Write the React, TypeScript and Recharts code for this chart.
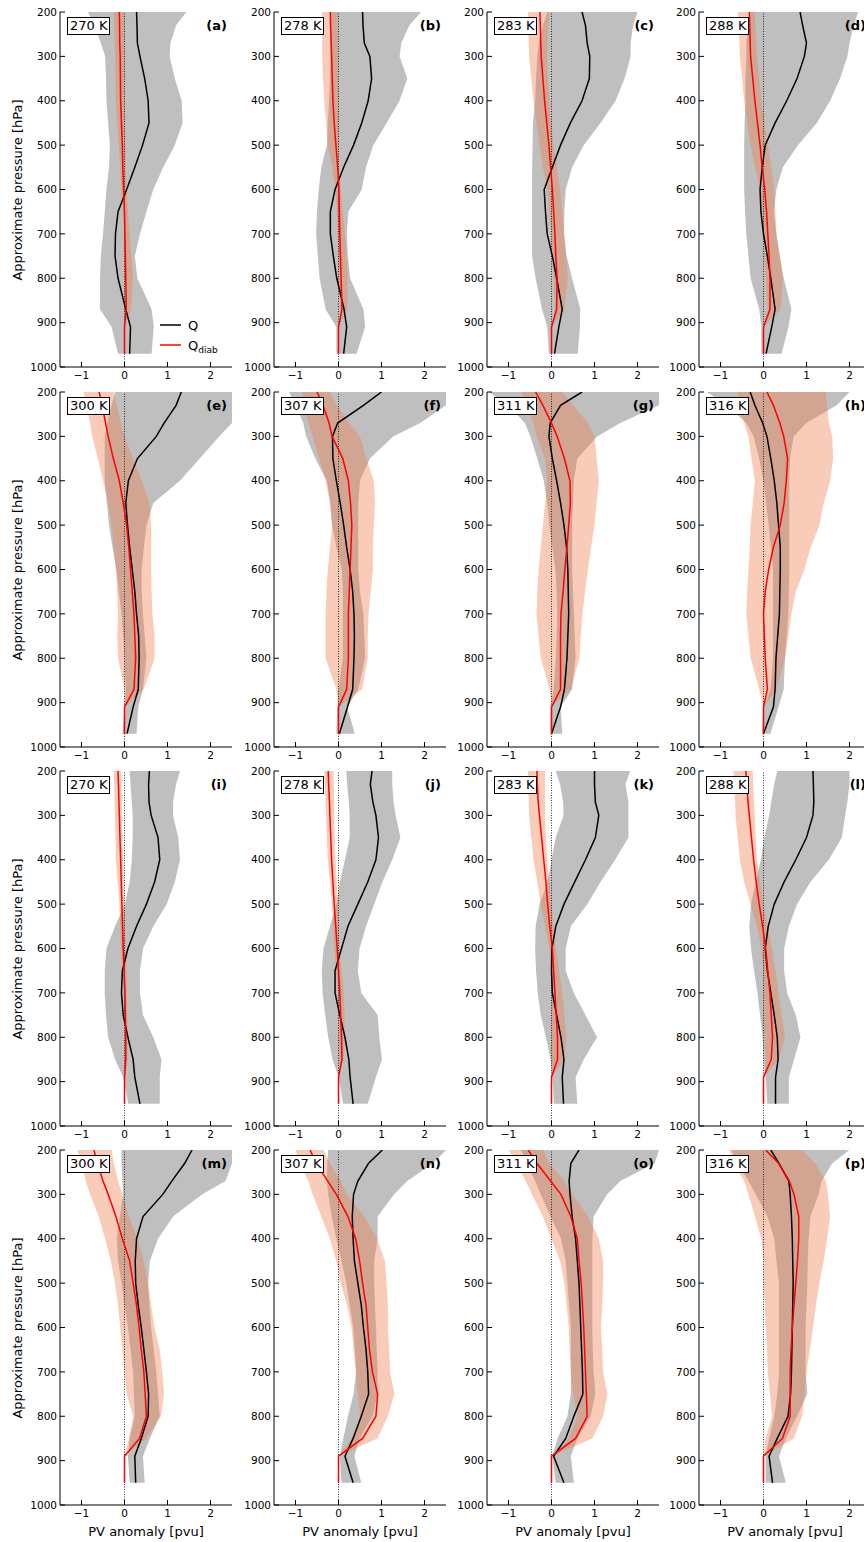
import React from 'react';
import { ComposedChart, Area, Line, XAxis, YAxis, ReferenceLine } from 'recharts';

// Pressure levels (hPa): rows 1-2 (a-h) and rows 3-4 (i-p)
const P_UPPER = [200, 230, 270, 300, 350, 400, 450, 500, 550, 600, 650, 700, 750, 800, 870, 910, 970];
const P_LOWER = [200, 230, 270, 300, 350, 400, 450, 500, 550, 600, 650, 700, 750, 800, 850, 890, 950];

const PANEL_LABELS = ['(a)', '(b)', '(c)', '(d)', '(e)', '(f)', '(g)', '(h)', '(i)', '(j)', '(k)', '(l)', '(m)', '(n)', '(o)', '(p)'];
const THETA_LABELS = ['270 K', '278 K', '283 K', '288 K', '300 K', '307 K', '311 K', '316 K', '270 K', '278 K', '283 K', '288 K', '300 K', '307 K', '311 K', '316 K'];
const X_TICKS = [-1, 0, 1, 2];
const Y_TICKS = [200, 300, 400, 500, 600, 700, 800, 900, 1000];

// Q: mean and spread (pvu), one row per panel a..p
const Q_MEAN = [
  [0.28, 0.29, 0.30, 0.36, 0.47, 0.55, 0.57, 0.42, 0.24, 0.05, -0.15, -0.21, -0.22, -0.15, 0.03, 0.14, 0.12],
  [0.56, 0.57, 0.60, 0.73, 0.77, 0.69, 0.54, 0.35, 0.12, -0.08, -0.19, -0.19, -0.12, -0.04, 0.13, 0.19, 0.12],
  [0.71, 0.79, 0.83, 0.89, 0.88, 0.71, 0.44, 0.21, 0.02, -0.17, -0.14, -0.10, 0.02, 0.12, 0.25, 0.17, 0.07],
  [0.85, 0.91, 1.00, 0.95, 0.78, 0.54, 0.27, 0.04, -0.03, -0.08, -0.06, 0.00, 0.09, 0.17, 0.27, 0.19, 0.06],
  [1.32, 1.20, 0.92, 0.74, 0.30, 0.09, 0.03, 0.07, 0.12, 0.18, 0.24, 0.28, 0.33, 0.34, 0.32, 0.20, 0.06],
  [1.00, 0.58, -0.02, -0.14, -0.13, -0.05, 0.04, 0.12, 0.19, 0.27, 0.33, 0.36, 0.37, 0.36, 0.33, 0.21, 0.02],
  [0.71, 0.21, -0.03, -0.06, 0.02, 0.12, 0.21, 0.29, 0.35, 0.38, 0.39, 0.40, 0.38, 0.36, 0.30, 0.21, 0.00],
  [-0.31, -0.20, -0.02, 0.08, 0.17, 0.25, 0.31, 0.35, 0.39, 0.39, 0.38, 0.37, 0.33, 0.29, 0.27, 0.23, 0.00],
  [0.58, 0.56, 0.57, 0.62, 0.78, 0.82, 0.70, 0.51, 0.28, 0.08, -0.05, -0.07, -0.03, 0.08, 0.20, 0.24, 0.36],
  [0.78, 0.74, 0.80, 0.87, 0.93, 0.87, 0.68, 0.45, 0.22, 0.07, -0.08, -0.08, 0.03, 0.15, 0.24, 0.27, 0.34],
  [1.00, 1.00, 1.02, 1.10, 1.02, 0.79, 0.54, 0.29, 0.10, 0.01, 0.00, 0.02, 0.12, 0.22, 0.29, 0.25, 0.28],
  [1.15, 1.16, 1.17, 1.15, 1.00, 0.75, 0.48, 0.25, 0.11, 0.04, 0.09, 0.17, 0.25, 0.32, 0.34, 0.28, 0.28],
  [1.57, 1.40, 1.10, 0.89, 0.43, 0.28, 0.25, 0.26, 0.32, 0.39, 0.45, 0.51, 0.56, 0.55, 0.39, 0.24, 0.26],
  [1.02, 0.70, 0.45, 0.35, 0.32, 0.34, 0.37, 0.45, 0.53, 0.58, 0.64, 0.68, 0.70, 0.53, 0.34, 0.15, 0.34],
  [0.64, 0.45, 0.41, 0.43, 0.48, 0.56, 0.60, 0.64, 0.66, 0.68, 0.70, 0.72, 0.73, 0.52, 0.33, 0.05, 0.29],
  [0.17, 0.36, 0.59, 0.62, 0.65, 0.67, 0.68, 0.69, 0.68, 0.67, 0.66, 0.65, 0.63, 0.57, 0.32, 0.13, 0.21],
];
const Q_LO = [
  [-0.85, -0.70, -0.55, -0.45, -0.43, -0.42, -0.38, -0.34, -0.36, -0.42, -0.46, -0.50, -0.55, -0.57, -0.57, -0.30, -0.15],
  [-0.19, -0.19, -0.19, -0.19, -0.20, -0.22, -0.25, -0.27, -0.40, -0.46, -0.50, -0.52, -0.48, -0.44, -0.30, -0.05, -0.05],
  [-0.10, -0.20, -0.30, -0.33, -0.36, -0.38, -0.43, -0.44, -0.45, -0.45, -0.45, -0.45, -0.45, -0.37, -0.22, -0.10, -0.06],
  [-0.30, -0.35, -0.40, -0.40, -0.42, -0.42, -0.44, -0.45, -0.45, -0.45, -0.43, -0.40, -0.35, -0.30, -0.10, -0.05, -0.05],
  [-0.22, -0.30, -0.40, -0.46, -0.46, -0.46, -0.41, -0.36, -0.28, -0.19, -0.13, -0.07, -0.03, 0.00, 0.03, 0.00, -0.05],
  [-1.15, -1.00, -0.82, -0.75, -0.54, -0.27, -0.19, -0.15, -0.05, 0.08, 0.10, 0.10, 0.10, 0.10, 0.00, -0.03, -0.05],
  [-1.46, -1.00, -0.62, -0.49, -0.33, -0.18, -0.10, -0.05, 0.02, 0.09, 0.12, 0.13, 0.12, 0.10, 0.05, -0.02, -0.02],
  [-1.32, -0.85, -0.40, -0.23, -0.10, 0.00, 0.06, 0.12, 0.17, 0.22, 0.22, 0.22, 0.22, 0.22, 0.16, 0.00, -0.04],
  [0.12, 0.14, 0.17, 0.19, 0.19, 0.17, 0.12, 0.01, -0.22, -0.42, -0.46, -0.46, -0.43, -0.38, -0.22, -0.03, 0.09],
  [0.18, 0.20, 0.24, 0.26, 0.26, 0.15, 0.03, -0.05, -0.20, -0.35, -0.39, -0.37, -0.31, -0.24, -0.14, 0.00, 0.11],
  [0.10, 0.20, 0.27, 0.28, 0.10, 0.00, -0.09, -0.28, -0.37, -0.38, -0.36, -0.32, -0.25, -0.13, -0.02, 0.02, 0.06],
  [0.32, 0.25, 0.18, 0.13, 0.02, -0.06, -0.18, -0.29, -0.33, -0.29, -0.22, -0.14, -0.08, -0.02, 0.00, 0.05, 0.09],
  [-0.07, -0.07, -0.05, -0.03, -0.11, -0.18, -0.15, -0.07, 0.00, 0.08, 0.14, 0.20, 0.22, 0.24, 0.12, 0.08, 0.12],
  [-0.24, -0.26, -0.27, -0.24, -0.16, -0.05, 0.07, 0.18, 0.26, 0.34, 0.38, 0.41, 0.35, 0.22, 0.11, 0.03, 0.07],
  [-0.71, -0.57, -0.38, -0.25, -0.02, 0.22, 0.33, 0.37, 0.41, 0.45, 0.45, 0.45, 0.45, 0.37, 0.14, 0.02, 0.10],
  [-0.75, -0.60, -0.35, -0.18, 0.09, 0.25, 0.30, 0.36, 0.36, 0.36, 0.36, 0.36, 0.32, 0.25, 0.13, 0.05, 0.05],
];
const Q_HI = [
  [1.44, 1.20, 1.07, 1.05, 1.17, 1.33, 1.35, 1.17, 0.90, 0.67, 0.51, 0.36, 0.24, 0.30, 0.63, 0.68, 0.63],
  [1.92, 1.65, 1.46, 1.42, 1.60, 1.42, 1.12, 0.81, 0.64, 0.54, 0.23, 0.19, 0.22, 0.27, 0.58, 0.62, 0.42],
  [2.00, 1.90, 1.84, 1.84, 1.70, 1.49, 1.14, 0.75, 0.48, 0.33, 0.30, 0.29, 0.35, 0.48, 0.67, 0.66, 0.61],
  [2.20, 2.10, 2.00, 1.95, 1.78, 1.55, 1.24, 0.80, 0.45, 0.30, 0.24, 0.30, 0.38, 0.47, 0.65, 0.58, 0.42],
  [2.50, 2.50, 2.50, 2.20, 1.75, 1.29, 0.67, 0.51, 0.45, 0.40, 0.40, 0.43, 0.47, 0.51, 0.43, 0.32, 0.28],
  [2.50, 2.50, 1.90, 1.27, 0.73, 0.50, 0.46, 0.46, 0.46, 0.46, 0.50, 0.58, 0.60, 0.62, 0.46, 0.20, 0.38],
  [2.50, 2.50, 1.60, 1.06, 0.60, 0.52, 0.50, 0.48, 0.48, 0.48, 0.50, 0.52, 0.54, 0.56, 0.48, 0.21, 0.25],
  [2.00, 1.70, 1.00, 0.70, 0.62, 0.60, 0.60, 0.60, 0.60, 0.60, 0.59, 0.58, 0.54, 0.50, 0.47, 0.35, 0.16],
  [1.29, 1.20, 1.13, 1.13, 1.25, 1.29, 1.17, 0.98, 0.67, 0.43, 0.36, 0.36, 0.43, 0.67, 0.86, 0.82, 0.82],
  [1.25, 1.25, 1.28, 1.33, 1.44, 1.25, 1.02, 0.83, 0.64, 0.49, 0.45, 0.53, 0.91, 0.95, 1.01, 0.87, 0.68],
  [1.83, 1.72, 1.79, 1.79, 1.79, 1.48, 1.14, 0.83, 0.45, 0.33, 0.33, 0.52, 0.79, 1.06, 0.75, 0.56, 0.60],
  [2.00, 2.00, 1.95, 1.90, 1.82, 1.52, 1.09, 0.78, 0.59, 0.48, 0.48, 0.55, 0.75, 0.86, 0.71, 0.59, 0.59],
  [2.50, 2.50, 2.35, 1.80, 1.13, 0.78, 0.59, 0.55, 0.58, 0.62, 0.68, 0.74, 0.78, 0.82, 0.59, 0.43, 0.47],
  [2.50, 2.20, 1.60, 1.29, 0.91, 0.91, 0.83, 0.83, 0.85, 0.87, 0.89, 0.91, 0.91, 0.79, 0.49, 0.37, 0.53],
  [2.50, 2.40, 1.60, 1.29, 0.98, 0.95, 0.95, 0.95, 0.95, 0.95, 0.96, 0.98, 1.02, 0.91, 0.60, 0.45, 0.52],
  [2.00, 1.60, 1.35, 1.28, 1.09, 1.05, 1.03, 1.02, 1.00, 0.98, 0.98, 0.98, 1.02, 0.78, 0.52, 0.36, 0.52],
];

// Q_diab: mean and spread (pvu)
const D_MEAN = [
  [-0.12, -0.115, -0.11, -0.10, -0.095, -0.09, -0.07, -0.05, -0.04, -0.02, 0.00, 0.01, 0.02, 0.03, 0.04, 0, 0],
  [-0.19, -0.185, -0.17, -0.16, -0.145, -0.13, -0.10, -0.06, -0.02, 0.01, 0.02, 0.03, 0.045, 0.06, 0.08, 0, 0],
  [-0.27, -0.26, -0.25, -0.24, -0.20, -0.16, -0.11, -0.06, -0.02, 0.02, 0.05, 0.08, 0.10, 0.13, 0.12, 0, 0],
  [-0.33, -0.32, -0.31, -0.30, -0.25, -0.20, -0.14, -0.08, -0.03, 0.03, 0.07, 0.10, 0.13, 0.15, 0.15, 0, 0],
  [-0.59, -0.52, -0.44, -0.38, -0.26, -0.12, -0.03, 0.05, 0.10, 0.14, 0.18, 0.22, 0.24, 0.26, 0.22, 0, 0],
  [-0.50, -0.36, -0.22, -0.15, 0.10, 0.23, 0.28, 0.31, 0.29, 0.27, 0.25, 0.23, 0.23, 0.23, 0.19, 0, 0],
  [-0.37, -0.20, 0.00, 0.13, 0.30, 0.43, 0.44, 0.40, 0.36, 0.31, 0.27, 0.22, 0.21, 0.21, 0.21, 0, 0],
  [0.08, 0.23, 0.38, 0.47, 0.56, 0.53, 0.48, 0.39, 0.23, 0.12, 0.04, 0.00, 0.02, 0.04, 0.09, 0, 0],
  [-0.15, -0.14, -0.13, -0.12, -0.105, -0.09, -0.075, -0.06, -0.045, -0.03, -0.01, 0.01, 0.02, 0.03, 0.03, 0, 0],
  [-0.24, -0.23, -0.21, -0.20, -0.18, -0.16, -0.13, -0.10, -0.065, -0.03, 0.00, 0.03, 0.05, 0.07, 0.08, 0, 0],
  [-0.34, -0.33, -0.31, -0.28, -0.23, -0.18, -0.13, -0.09, -0.04, 0.02, 0.05, 0.08, 0.11, 0.14, 0.14, 0, 0],
  [-0.41, -0.39, -0.36, -0.33, -0.28, -0.23, -0.17, -0.10, -0.02, 0.05, 0.10, 0.15, 0.18, 0.21, 0.18, 0, 0],
  [-0.71, -0.63, -0.50, -0.38, -0.20, -0.05, 0.12, 0.20, 0.28, 0.34, 0.39, 0.45, 0.48, 0.51, 0.35, 0, 0],
  [-0.66, -0.52, -0.25, -0.05, 0.22, 0.40, 0.49, 0.56, 0.64, 0.68, 0.72, 0.79, 0.91, 0.87, 0.56, 0, 0],
  [-0.54, -0.34, -0.02, 0.22, 0.45, 0.60, 0.64, 0.69, 0.72, 0.75, 0.77, 0.79, 0.81, 0.83, 0.56, 0, 0],
  [0.05, 0.35, 0.60, 0.71, 0.82, 0.82, 0.79, 0.75, 0.71, 0.67, 0.64, 0.62, 0.62, 0.62, 0.44, 0, 0],
];
const D_LO = [
  [-0.25, -0.24, -0.23, -0.22, -0.21, -0.20, -0.17, -0.13, -0.10, -0.07, -0.04, -0.02, -0.01, -0.01, 0, 0, 0],
  [-0.38, -0.38, -0.38, -0.38, -0.36, -0.33, -0.29, -0.25, -0.15, -0.07, -0.04, -0.02, -0.01, 0.00, 0.05, 0, 0],
  [-0.55, -0.54, -0.53, -0.52, -0.47, -0.42, -0.35, -0.28, -0.20, -0.10, -0.05, 0.00, 0.02, 0.05, 0.08, 0, 0],
  [-0.60, -0.58, -0.56, -0.55, -0.50, -0.45, -0.38, -0.30, -0.20, -0.08, -0.03, 0.00, 0.02, 0.05, 0.10, 0, 0],
  [-0.95, -0.90, -0.80, -0.75, -0.62, -0.50, -0.38, -0.30, -0.25, -0.20, -0.17, -0.15, -0.17, -0.15, 0.00, 0, 0],
  [-0.85, -0.80, -0.70, -0.60, -0.45, -0.30, -0.20, -0.15, -0.20, -0.25, -0.28, -0.30, -0.30, -0.30, -0.05, 0, 0],
  [-0.70, -0.60, -0.42, -0.35, -0.15, -0.10, -0.15, -0.20, -0.25, -0.30, -0.33, -0.35, -0.30, -0.25, -0.05, 0, 0],
  [-0.60, -0.55, -0.45, -0.35, -0.28, -0.20, -0.25, -0.30, -0.32, -0.35, -0.38, -0.40, -0.35, -0.30, -0.10, 0, 0],
  [-0.25, -0.24, -0.23, -0.22, -0.21, -0.20, -0.16, -0.12, -0.10, -0.08, -0.04, -0.02, 0.00, 0.00, 0.00, 0, 0],
  [-0.33, -0.32, -0.30, -0.29, -0.27, -0.25, -0.20, -0.15, -0.12, -0.10, -0.05, -0.02, -0.01, 0.00, 0.02, 0, 0],
  [-0.55, -0.54, -0.53, -0.52, -0.47, -0.42, -0.33, -0.25, -0.15, -0.05, -0.02, 0.00, 0.00, 0.00, 0.00, 0, 0],
  [-0.70, -0.68, -0.66, -0.65, -0.60, -0.55, -0.45, -0.30, -0.15, -0.05, 0.00, 0.00, 0.00, 0.02, 0.05, 0, 0],
  [-1.10, -1.00, -0.90, -0.80, -0.60, -0.45, -0.32, -0.22, -0.15, -0.10, -0.05, 0.00, 0.05, 0.20, 0.10, 0, 0],
  [-1.00, -0.90, -0.70, -0.60, -0.40, -0.20, -0.05, 0.05, 0.20, 0.30, 0.35, 0.40, 0.45, 0.50, 0.30, 0, 0],
  [-1.00, -0.82, -0.60, -0.45, -0.20, 0.00, 0.20, 0.30, 0.35, 0.40, 0.42, 0.45, 0.50, 0.60, 0.40, 0, 0],
  [-0.80, -0.70, -0.45, -0.35, -0.20, -0.05, 0.00, 0.00, 0.03, 0.05, 0.08, 0.10, 0.15, 0.20, 0.05, 0, 0],
];
const D_HI = [
  [0.00, 0.00, 0.00, 0.00, 0.00, 0.00, 0.01, 0.02, 0.03, 0.05, 0.08, 0.12, 0.16, 0.20, 0.15, 0, 0],
  [-0.02, -0.02, -0.02, -0.02, -0.01, 0.00, 0.00, 0.00, 0.02, 0.05, 0.10, 0.15, 0.18, 0.22, 0.20, 0, 0],
  [-0.05, -0.07, -0.09, -0.10, -0.08, -0.05, 0.00, 0.05, 0.12, 0.20, 0.25, 0.30, 0.34, 0.38, 0.30, 0, 0],
  [-0.20, -0.19, -0.17, -0.15, -0.10, -0.05, 0.03, 0.10, 0.18, 0.25, 0.28, 0.30, 0.38, 0.45, 0.40, 0, 0],
  [-0.25, -0.18, -0.08, 0.00, 0.20, 0.40, 0.58, 0.62, 0.62, 0.62, 0.63, 0.65, 0.70, 0.70, 0.45, 0, 0],
  [-0.20, -0.05, 0.25, 0.50, 0.65, 0.82, 0.85, 0.82, 0.80, 0.80, 0.75, 0.70, 0.68, 0.68, 0.55, 0, 0],
  [0.25, 0.50, 0.85, 1.00, 1.05, 1.10, 1.05, 1.00, 0.92, 0.85, 0.78, 0.72, 0.68, 0.65, 0.45, 0, 0],
  [1.45, 1.48, 1.52, 1.60, 1.62, 1.55, 1.40, 1.30, 1.10, 0.95, 0.75, 0.65, 0.58, 0.50, 0.30, 0, 0],
  [-0.08, -0.07, -0.06, -0.06, -0.05, -0.03, -0.02, -0.01, 0.01, 0.03, 0.04, 0.05, 0.06, 0.07, 0.07, 0, 0],
  [-0.12, -0.11, -0.10, -0.10, -0.09, -0.07, -0.04, -0.02, 0.00, 0.02, 0.07, 0.12, 0.14, 0.15, 0.12, 0, 0],
  [-0.15, -0.15, -0.15, -0.15, -0.13, -0.10, -0.05, 0.00, 0.05, 0.10, 0.18, 0.25, 0.30, 0.35, 0.30, 0, 0],
  [-0.25, -0.24, -0.22, -0.20, -0.18, -0.15, -0.08, 0.00, 0.10, 0.20, 0.28, 0.35, 0.42, 0.50, 0.35, 0, 0],
  [-0.30, -0.25, -0.15, -0.05, 0.10, 0.30, 0.45, 0.55, 0.62, 0.70, 0.82, 0.88, 0.92, 0.85, 0.50, 0, 0],
  [-0.35, -0.20, 0.05, 0.20, 0.60, 0.90, 1.08, 1.12, 1.15, 1.15, 1.18, 1.20, 1.30, 1.15, 0.90, 0, 0],
  [-0.20, -0.05, 0.30, 0.50, 0.85, 1.10, 1.20, 1.20, 1.18, 1.15, 1.18, 1.20, 1.30, 1.20, 0.95, 0, 0],
  [0.90, 1.20, 1.45, 1.50, 1.55, 1.48, 1.40, 1.30, 1.22, 1.15, 1.08, 1.00, 0.95, 0.90, 0.70, 0, 0],
];

// Layout
const COL_LEFT = [60, 274, 487, 699];
const ROW_TOP = [12, 392, 771, 1150];
const PLOT_W = 172;
const PLOT_H = 355;
const YAX_W = 50;
const XAX_H = 26;
const M_TOP = 10;
const M_RIGHT = 4;
const FONT = '"DejaVu Sans", "Liberation Sans", sans-serif';

const fmtX = (v: number) => (v < 0 ? '\u2212' + Math.abs(v) : String(v));
const blank = () => '';

function Panel({ k }: { k: number }) {
  const row = Math.floor(k / 4);
  const col = k % 4;
  const levels = row < 2 ? P_UPPER : P_LOWER;
  const data = levels.map((p, i) => ({
    p,
    qm: Q_MEAN[k][i],
    qr: [Q_LO[k][i], Q_HI[k][i]],
    dm: D_MEAN[k][i],
    dr: [D_LO[k][i], D_HI[k][i]],
  }));
  const left = COL_LEFT[col];
  const top = ROW_TOP[row];
  const tickStyle = { fontSize: 10.5, fill: '#000', fontFamily: FONT };
  return (
    <>
      <div style={{ position: 'absolute', left: left - YAX_W, top: top - M_TOP }}>
        <ComposedChart
          layout="vertical"
          width={YAX_W + PLOT_W + M_RIGHT}
          height={M_TOP + PLOT_H + XAX_H}
          data={data}
          margin={{ top: M_TOP, right: M_RIGHT, left: 0, bottom: 0 }}
        >
          <XAxis xAxisId="b" type="number" orientation="bottom" domain={[-1.5, 2.5]} ticks={X_TICKS}
            allowDataOverflow interval={0} height={XAX_H} tickSize={-5} tickMargin={10}
            tickFormatter={fmtX} tick={tickStyle} stroke="#000" />
          <XAxis xAxisId="t" type="number" orientation="top" domain={[-1.5, 2.5]} ticks={X_TICKS}
            allowDataOverflow interval={0} height={0} tickSize={-5} tickFormatter={blank} stroke="#000" />
          <YAxis yAxisId="l" type="number" dataKey="p" orientation="left" domain={[200, 1000]} ticks={Y_TICKS}
            allowDataOverflow interval={0} width={YAX_W} tickSize={-5} tickMargin={8}
            tick={tickStyle} stroke="#000" />
          <YAxis yAxisId="r" type="number" dataKey="p" orientation="right" domain={[200, 1000]} ticks={Y_TICKS}
            allowDataOverflow interval={0} width={0} tickSize={-5} tickFormatter={blank} stroke="#000" />
          <Area xAxisId="b" yAxisId="l" dataKey="qr" stroke="none" fill="#000" fillOpacity={0.25}
            isAnimationActive={false} dot={false} activeDot={false} />
          <Area xAxisId="b" yAxisId="l" dataKey="dr" stroke="none" fill="#f08050" fillOpacity={0.4}
            isAnimationActive={false} dot={false} activeDot={false} />
          <ReferenceLine xAxisId="b" yAxisId="l" x={0} stroke="#000" strokeWidth={0.8} strokeDasharray="1 1.5" />
          <Line xAxisId="b" yAxisId="l" dataKey="qm" stroke="#000" strokeWidth={1.5} dot={false}
            activeDot={false} isAnimationActive={false} />
          <Line xAxisId="b" yAxisId="l" dataKey="dm" stroke="#ff0000" strokeWidth={1.5} dot={false}
            activeDot={false} isAnimationActive={false} />
        </ComposedChart>
      </div>
      <div style={{
        position: 'absolute', left: left + 7, top: top + 5, border: '1px solid #000', background: '#fff',
        fontSize: 13, lineHeight: '16px', padding: '0 2px', fontFamily: FONT, color: '#000', whiteSpace: 'nowrap',
      }}>{THETA_LABELS[k]}</div>
      <div style={{
        position: 'absolute', left: left, top: top + 5, width: PLOT_W - 5, textAlign: 'right',
        fontSize: 13, lineHeight: '18px', fontWeight: 'bold', fontFamily: FONT, color: '#000',
      }}>{PANEL_LABELS[k]}</div>
    </>
  );
}

export default function App() {
  const panels = Array.from({ length: 16 }, (_, k) => k);
  return (
    <div style={{
      position: 'absolute', left: 0, top: 0, width: 864, height: 1542, overflow: 'hidden',
      background: '#fff', fontFamily: FONT,
    }}>
      {panels.map((k) => <Panel key={k} k={k} />)}
      {ROW_TOP.map((t, r) => (
        <div key={'yl' + r} style={{
          position: 'absolute', left: 18 - 150, top: t + PLOT_H / 2 - 8, width: 300, height: 16,
          lineHeight: '16px', textAlign: 'center', fontSize: 13, color: '#000', transform: 'rotate(-90deg)',
          fontFamily: FONT, whiteSpace: 'nowrap',
        }}>Approximate pressure [hPa]</div>
      ))}
      {COL_LEFT.map((l, c) => (
        <div key={'xl' + c} style={{
          position: 'absolute', left: l + PLOT_W / 2 - 100, top: 1524, width: 200, textAlign: 'center',
          fontSize: 13, lineHeight: '15px', color: '#000', fontFamily: FONT, whiteSpace: 'nowrap',
        }}>PV anomaly [pvu]</div>
      ))}
      <svg style={{ position: 'absolute', left: 0, top: 0 }} width={864} height={400}>
        <line x1={160} y1={325} x2={181} y2={325} stroke="#000" strokeWidth={1.5} />
        <text x={188} y={330} fontSize={13} fontFamily={FONT} fill="#000">Q</text>
        <line x1={160} y1={345} x2={181} y2={345} stroke="#ff0000" strokeWidth={1.5} />
        <text x={188} y={350} fontSize={13} fontFamily={FONT} fill="#000">Q<tspan fontSize={9} dy={3}>diab</tspan></text>
      </svg>
    </div>
  );
}
